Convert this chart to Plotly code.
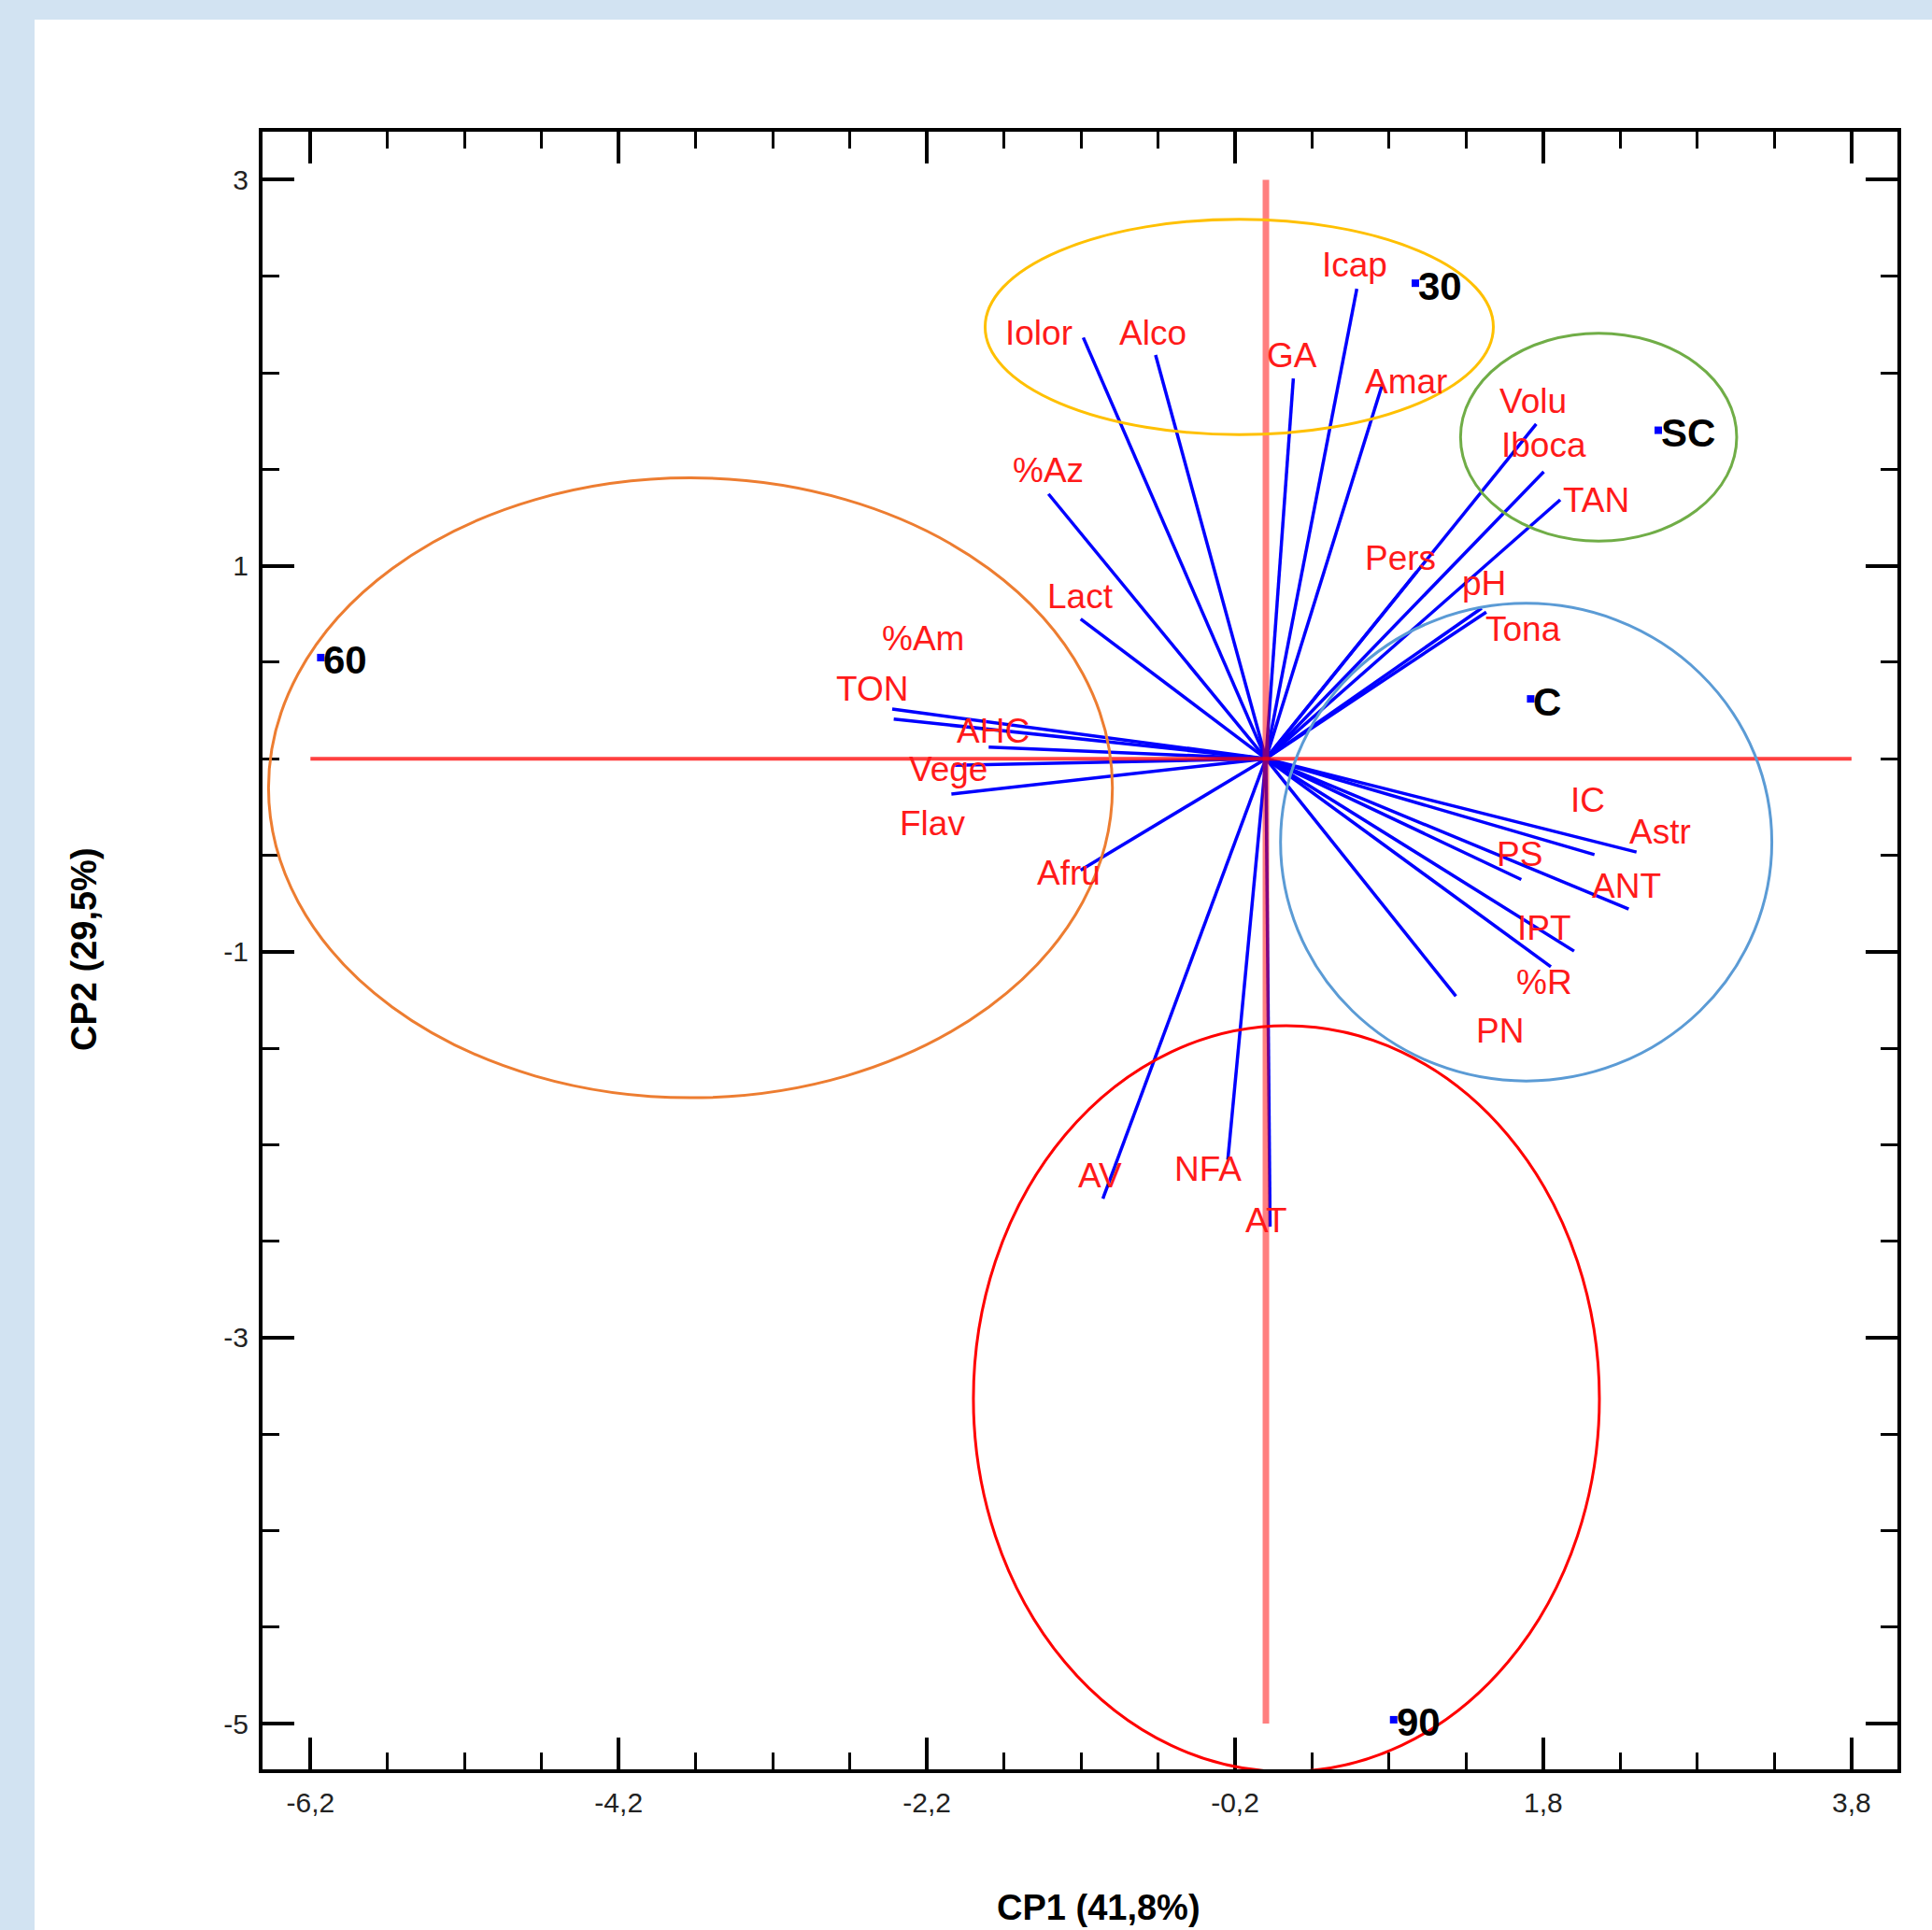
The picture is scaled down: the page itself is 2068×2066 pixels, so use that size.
import plotly.graph_objects as go

# ---------------- data ----------------
variables = ["Iolor", "Alco", "GA", "Icap", "Amar", "%Az", "Lact",
             "%Am", "TON", "AHC", "Vege", "Flav", "Afru",
             "Pers", "Volu", "Iboca", "TAN", "pH", "Tona",
             "IC", "Astr", "PS", "ANT", "IPT", "%R", "PN",
             "AV", "NFA", "AT"]
cp1_loadings = [-1.185, -0.716, 0.178, 0.590, 0.752, -1.411, -1.202,
                -2.425, -2.415, -1.799, -2.031, -2.041, -1.202,
                0.980, 1.754, 1.803, 1.910, 1.400, 1.430,
                2.132, 2.405, 1.657, 2.354, 2.000, 1.849, 1.233,
                -1.058, -0.247, 0.027]
cp2_loadings = [2.182, 2.092, 1.970, 2.435, 1.931, 1.372, 0.724,
                0.257, 0.205, 0.060, -0.034, -0.183, -0.578,
                0.970, 1.734, 1.487, 1.342, 0.780, 0.760,
                -0.497, -0.484, -0.626, -0.779, -0.997, -1.078, -1.231,
                -2.280, -2.078, -2.425]

samples = ["30", "SC", "60", "C", "90"]
cp1_scores = [0.970, 2.546, -6.133, 1.718, 0.829]
cp2_scores = [2.464, 1.702, 0.524, 0.310, -4.980]

# group ellipses (bounding boxes in CP units)
group_x0 = [-1.822, 1.263, -6.472, 0.095, -1.898]
group_x1 = [1.476, 3.055, -0.996, 3.283, 2.164]
group_y0 = [1.679, 1.128, -1.757, -1.670, -5.249]
group_y1 = [2.795, 2.205, 1.455, 0.805, -1.384]

# reference cross lines
cross_x_extent = [-6.2, 3.8]
cross_y_extent = [3.0, -5.0]

x_tick_vals = [-6.2, -4.2, -2.2, -0.2, 1.8, 3.8]
x_tick_text = ["-6,2", "-4,2", "-2,2", "-0,2", "1,8", "3,8"]
y_tick_vals = [3, 1, -1, -3, -5]
y_tick_text = ["3", "1", "-1", "-3", "-5"]

x_title = "CP1 (41,8%)"
y_title = "CP2 (29,5%)"

# ---------------- styling ----------------
ellipse_colors = ["#FFC000", "#70AD47", "#ED7D31", "#5B9BD5", "#FF0000"]
# label offsets in pixels (dx, dy up) relative to vector tips
label_offsets = {
    "Iolor": (-48, 5), "Alco": (-3, 24), "GA": (-1, 25), "Icap": (-2, 26),
    "Amar": (26, 5), "%Az": (0, 25), "Lact": (0, 24), "%Am": (33, 76),
    "TON": (-23, 32), "AHC": (5, 17), "Vege": (-5, -4), "Flav": (-20, -32),
    "Afru": (-13, -3), "Pers": (-18, 14), "Volu": (-3, 24), "Iboca": (0, 28),
    "TAN": (38, -1), "pH": (3, 27), "Tona": (40, -18), "IC": (-7, 58),
    "Astr": (25, 22), "PS": (-2, 27), "ANT": (-2, 25), "IPT": (-32, 25),
    "%R": (-7, -17), "PN": (47, -37), "AV": (-3, 25), "NFA": (-21, -10),
    "AT": (-4, 7),
}

W, H = 2068, 2066
L, R, T, B = 281, 2031, 141, 1894
PW, PH = R - L, B - T

def px(xp):
    return (xp - L) / PW

def py(yp):
    return (B - yp) / PH

LABEL_FONT = "Liberation Sans, Arial, sans-serif"
BOLD_FONT = "Liberation Sans, Arial, sans-serif"

fig = go.Figure()

# vectors from origin
vx, vy = [], []
for a, b in zip(cp1_loadings, cp2_loadings):
    vx += [0, a, None]
    vy += [0, b, None]
fig.add_trace(go.Scatter(x=vx, y=vy, mode="lines",
                         line=dict(color="#0000FF", width=3.5),
                         hoverinfo="skip", showlegend=False))

# red cross lines
fig.add_trace(go.Scatter(x=cross_x_extent, y=[0, 0], mode="lines",
                         line=dict(color="rgba(255,0,0,0.75)", width=4),
                         hoverinfo="skip", showlegend=False))
fig.add_trace(go.Scatter(x=[0, 0], y=cross_y_extent, mode="lines",
                         line=dict(color="rgba(255,0,0,0.5)", width=7),
                         hoverinfo="skip", showlegend=False))

# sample points
fig.add_trace(go.Scatter(x=cp1_scores, y=cp2_scores, mode="markers",
                         marker=dict(symbol="square", size=8, color="#0000FF"),
                         cliponaxis=False, hoverinfo="skip", showlegend=False))

shapes = []
for x0, x1, y0, y1, c in zip(group_x0, group_x1, group_y0, group_y1, ellipse_colors):
    shapes.append(dict(type="circle", xref="x", yref="y", x0=x0, x1=x1, y0=y0, y1=y1,
                       line=dict(color=c, width=3), layer="above"))
# light blue page border strips
shapes.append(dict(type="rect", xref="paper", yref="paper",
                   x0=px(0), x1=px(37), y0=py(H + 10), y1=py(0),
                   fillcolor="#D2E3F2", line=dict(width=0), layer="below"))
shapes.append(dict(type="rect", xref="paper", yref="paper",
                   x0=px(0), x1=px(W), y0=py(21), y1=py(0),
                   fillcolor="#D2E3F2", line=dict(width=0), layer="below"))

annotations = []
for name, a, b in zip(variables, cp1_loadings, cp2_loadings):
    dx, dy = label_offsets[name]
    annotations.append(dict(x=a, y=b, xref="x", yref="y", text=name, showarrow=False,
                            xanchor="center", yanchor="middle", xshift=dx, yshift=dy,
                            font=dict(family=LABEL_FONT, size=37, color="#FF1A1A")))
for name, a, b in zip(samples, cp1_scores, cp2_scores):
    annotations.append(dict(x=a, y=b, xref="x", yref="y", text="<b>" + name + "</b>",
                            showarrow=False, xanchor="left", yanchor="middle",
                            xshift=1, yshift=-3,
                            font=dict(family=BOLD_FONT, size=42, color="#000000")))
annotations.append(dict(x=px(1176), y=py(2042), xref="paper", yref="paper",
                        text="<b>" + x_title + "</b>", showarrow=False,
                        xanchor="center", yanchor="middle",
                        font=dict(family=BOLD_FONT, size=38, color="#000000")))
annotations.append(dict(x=px(90), y=py(1016), xref="paper", yref="paper",
                        text="<b>" + y_title + "</b>", showarrow=False, textangle=-90,
                        xanchor="center", yanchor="middle",
                        font=dict(family=BOLD_FONT, size=38, color="#000000")))

axis_common = dict(showgrid=False, zeroline=False, showline=True, linecolor="#000000",
                   linewidth=4, mirror="ticks", ticks="inside", ticklen=34,
                   tickwidth=4, tickcolor="#000000",
                   tickfont=dict(family="Liberation Sans, Arial, sans-serif", size=30,
                                 color="#222222"))

fig.update_layout(
    width=W, height=H,
    margin=dict(l=L, r=W - R, t=T, b=H - B, pad=0),
    paper_bgcolor="#FFFFFF", plot_bgcolor="#FFFFFF",
    shapes=shapes, annotations=annotations, showlegend=False,
    xaxis=dict(range=[-6.511, 4.098], tickmode="array", tickvals=x_tick_vals,
               ticktext=x_tick_text, ticklabelstandoff=6,
               minor=dict(tickmode="linear", tick0=-6.2, dtick=0.5, ticks="inside",
                          ticklen=18, tickwidth=3, tickcolor="#000000"),
               **axis_common),
    yaxis=dict(range=[-5.237, 3.249], tickmode="array", tickvals=y_tick_vals,
               ticktext=y_tick_text, ticklabelstandoff=5,
               minor=dict(tickmode="linear", tick0=3, dtick=0.5, ticks="inside",
                          ticklen=18, tickwidth=3, tickcolor="#000000"),
               **axis_common),
)

fig.write_html("out.html",
               config={"displayModeBar": False},
               post_script="document.body.style.margin='0';"
                           "document.body.style.overflow='hidden';")
